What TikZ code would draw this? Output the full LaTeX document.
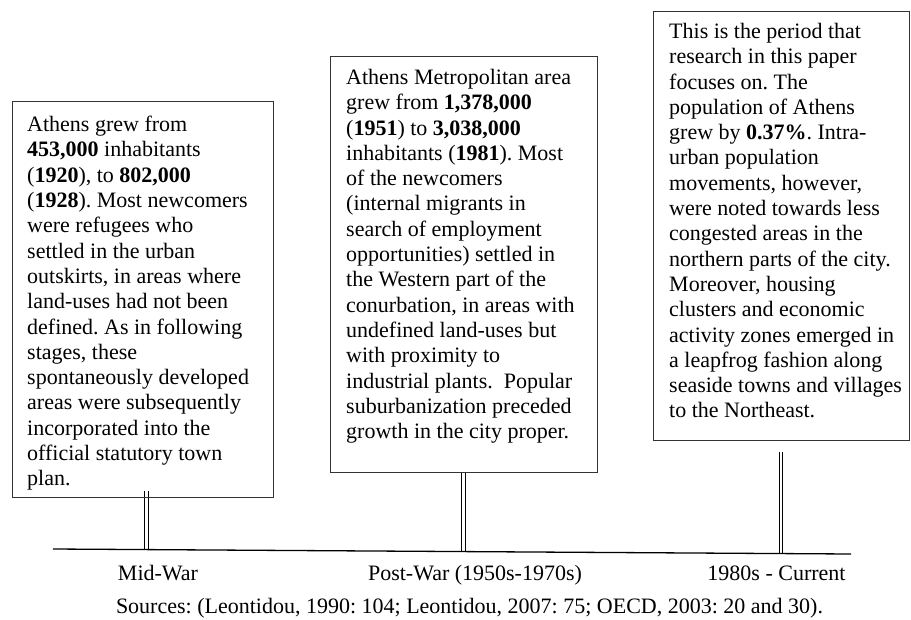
\documentclass[tikz,border=0pt]{standalone}
\usepackage{fontspec}
\setmainfont{Liberation Serif}
\usetikzlibrary{backgrounds}
\frenchspacing
\begin{document}
\begin{tikzpicture}[x=1pt,y=-1pt,
  box/.style={draw=black!80,line width=0.9pt,inner sep=0pt},
  boxtext/.style={anchor=north west,align=left,inner sep=0pt,font=\fontsize{22}{25.3}\selectfont},
  tick/.style={double,double distance=2.4pt,line width=1pt},
  period/.style={anchor=base,inner sep=0pt,font=\fontsize{22}{25}\selectfont}]
\useasboundingbox (0,0) rectangle (911,619);
% boxes
\node[box,minimum width=261pt,minimum height=396pt] (midwar) at (142.5,299) {};
\node[box,minimum width=267pt,minimum height=416pt] (postwar) at (463.5,264) {};
\node[box,minimum width=256pt,minimum height=429pt] (current) at (781,225.5) {};
\node[boxtext] (midwartext) at (27,116) {Athens grew from\\
\textbf{453,000} inhabitants\\
(\textbf{1920}), to \textbf{802,000}\\
(\textbf{1928}). Most newcomers\\
were refugees who\\
settled in the urban\\
outskirts, in areas where\\
land-uses had not been\\
defined. As in following\\
stages, these\\
spontaneously developed\\
areas were subsequently\\
incorporated into the\\
official statutory town\\
plan.};
\node[boxtext] (postwartext) at (346,69) {Athens Metropolitan area\\
grew from \textbf{1,378,000}\\
(\textbf{1951}) to \textbf{3,038,000}\\
inhabitants (\textbf{1981}). Most\\
of the newcomers\\
(internal migrants in\\
search of employment\\
opportunities) settled in\\
the Western part of the\\
conurbation, in areas with\\
undefined land-uses but\\
with proximity to\\
industrial plants.\ \ Popular\\
suburbanization preceded\\
growth in the city proper.};
\node[boxtext] (currenttext) at (669,23) {This is the period that\\
research in this paper\\
focuses on. The\\
population of Athens\\
grew by \textbf{0.37\%}. Intra-\\
urban population\\
movements, however,\\
were noted towards less\\
congested areas in the\\
northern parts of the city.\\
Moreover, housing\\
clusters and economic\\
activity zones emerged in\\
a leapfrog fashion along\\
seaside towns and villages\\
to the Northeast.};
% timeline
\coordinate (tlstart) at (53,549);
\coordinate (tlend) at (851,554);
\coordinate (midtick) at (146.5,549.6);
\coordinate (posttick) at (463.5,551.6);
\coordinate (curtick) at (781,553.6);
\draw[line width=1.3pt] (tlstart) -- (tlend);
\begin{scope}[on background layer]
\draw[tick] ([yshift=6pt]midtick |- midwar.south) -- (midtick);
\draw[tick] (posttick |- postwar.south) -- (posttick);
\draw[tick] ([yshift=-12pt]curtick |- current.south) -- (curtick);
\end{scope}
% labels
\node[period] (midlabel) at (158,580) {Mid-War};
\node[period] (postlabel) at (475,580) {Post-War (1950s-1970s)};
\node[period] (curlabel) at (776.5,580) {1980s - Current};
\node[period] (sources) at (469.5,613) {Sources: (Leontidou, 1990: 104; Leontidou, 2007: 75; OECD, 2003: 20 and 30).};
\end{tikzpicture}
\end{document}
